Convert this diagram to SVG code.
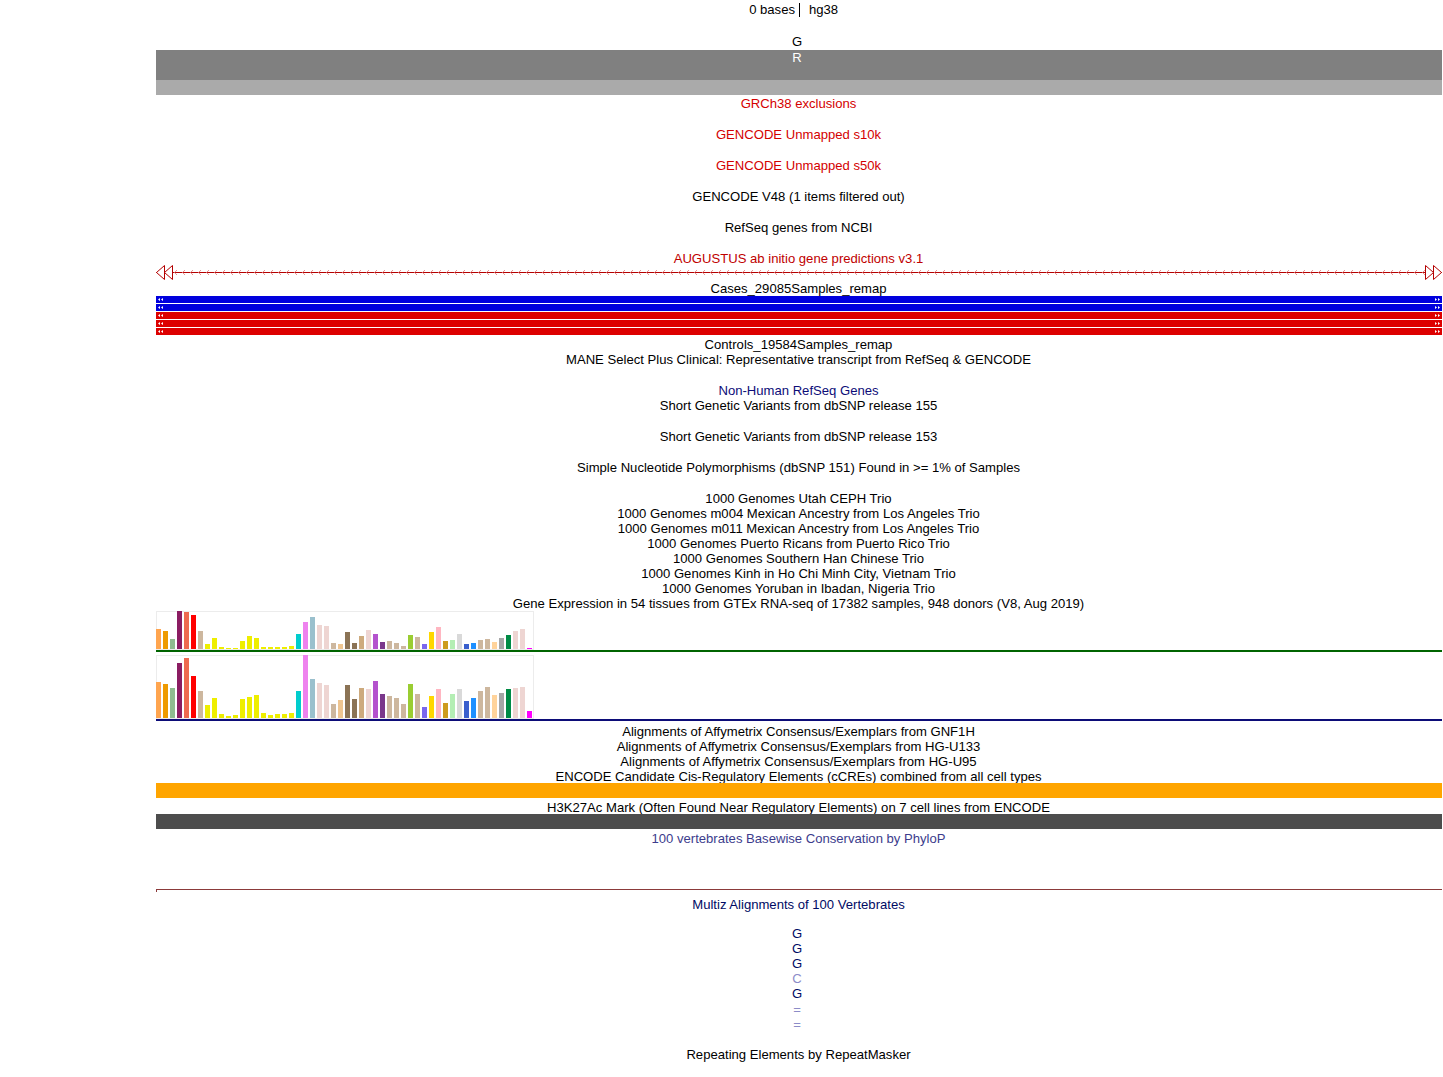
<svg xmlns="http://www.w3.org/2000/svg" width="1443" height="1077" viewBox="0 0 1443 1077">
<style>
text{font-family:"Liberation Sans",Arial,sans-serif;font-size:13.1px;fill:#000;text-anchor:middle}
.red{fill:#d40000}
.aug{fill:#c00000}
.nav{fill:#0c0c78}
.phy{fill:#3c3c8c}
.mz{fill:#000a64}
.mzl{fill:#8c8cc8}
.wh{fill:#fff}
.box{fill:none;stroke:#ececec;stroke-width:1}
</style>
<defs>
<pattern id="chev" patternUnits="userSpaceOnUse" x="174" y="268" width="8" height="10">
<path d="M3,2 L0.6,4.5 L3,7" fill="none" stroke="#e89090" stroke-width="1"/>
</pattern>
</defs>
<rect width="1443" height="1077" fill="#fff"/>

<g id="scale">
<text x="795" y="14" style="text-anchor:end">0 bases</text>
<line x1="799.5" y1="3" x2="799.5" y2="17" stroke="#000" stroke-width="1"/>
<text x="809" y="14" style="text-anchor:start">hg38</text>
</g>

<g id="reference">
<text x="797" y="46">G</text>
<rect x="156" y="50" width="1286" height="30" fill="#808080"/>
<text x="797" y="62" class="wh">R</text>
<rect x="156" y="80" width="1286" height="15" fill="#aaaaaa"/>
</g>

<g id="labels-upper">
<text x="798.5" y="108" class="red">GRCh38 exclusions</text>
<text x="798.5" y="139" class="red">GENCODE Unmapped s10k</text>
<text x="798.5" y="170" class="red">GENCODE Unmapped s50k</text>
<text x="798.5" y="201">GENCODE V48 (1 items filtered out)</text>
<text x="798.5" y="232">RefSeq genes from NCBI</text>
<text x="798.5" y="263" class="aug">AUGUSTUS ab initio gene predictions v3.1</text>
</g>

<g id="augustus">
<line x1="156" y1="272.5" x2="1442" y2="272.5" stroke="#b40000" stroke-width="1"/>
<rect x="174" y="268" width="1252" height="10" fill="url(#chev)"/>
<polygon points="156.5,272.5 164.5,265.5 164.5,279.5" fill="#fff" stroke="#b40000" stroke-width="1"/>
<polygon points="164.5,272.5 172.5,265.5 172.5,279.5" fill="#fff" stroke="#b40000" stroke-width="1"/>
<polygon points="1441.5,272.5 1433.5,265.5 1433.5,279.5" fill="#fff" stroke="#b40000" stroke-width="1"/>
<polygon points="1433.5,272.5 1425.5,265.5 1425.5,279.5" fill="#fff" stroke="#b40000" stroke-width="1"/>
</g>

<g id="cases">
<text x="798.5" y="292.5">Cases_29085Samples_remap</text>
<rect x="156" y="296" width="1286" height="7" fill="#0000dd"/>
<rect x="156" y="304" width="1286" height="7" fill="#0000dd"/>
<rect x="156" y="312" width="1286" height="7" fill="#dd0000"/>
<rect x="156" y="320" width="1286" height="7" fill="#dd0000"/>
<rect x="156" y="328" width="1286" height="7" fill="#dd0000"/>
<g fill="#fff">
<path d="M158,299.5 L160,298 L160,301 Z M161,299.5 L163,298 L163,301 Z"/>
<path d="M158,307.5 L160,306 L160,309 Z M161,307.5 L163,306 L163,309 Z"/>
<path d="M158,315.5 L160,314 L160,317 Z M161,315.5 L163,314 L163,317 Z"/>
<path d="M158,323.5 L160,322 L160,325 Z M161,323.5 L163,322 L163,325 Z"/>
<path d="M158,331.5 L160,330 L160,333 Z M161,331.5 L163,330 L163,333 Z"/>
<path d="M1440,299.5 L1438,298 L1438,301 Z M1437,299.5 L1435,298 L1435,301 Z"/>
<path d="M1440,307.5 L1438,306 L1438,309 Z M1437,307.5 L1435,306 L1435,309 Z"/>
<path d="M1440,315.5 L1438,314 L1438,317 Z M1437,315.5 L1435,314 L1435,317 Z"/>
<path d="M1440,323.5 L1438,322 L1438,325 Z M1437,323.5 L1435,322 L1435,325 Z"/>
<path d="M1440,331.5 L1438,330 L1438,333 Z M1437,331.5 L1435,330 L1435,333 Z"/>
</g>
</g>

<g id="labels-middle">
<text x="798.5" y="349">Controls_19584Samples_remap</text>
<text x="798.5" y="364">MANE Select Plus Clinical: Representative transcript from RefSeq &amp; GENCODE</text>
<text x="798.5" y="395" class="nav">Non-Human RefSeq Genes</text>
<text x="798.5" y="410">Short Genetic Variants from dbSNP release 155</text>
<text x="798.5" y="441">Short Genetic Variants from dbSNP release 153</text>
<text x="798.5" y="472">Simple Nucleotide Polymorphisms (dbSNP 151) Found in &gt;= 1% of Samples</text>
<text x="798.5" y="503">1000 Genomes Utah CEPH Trio</text>
<text x="798.5" y="518">1000 Genomes m004 Mexican Ancestry from Los Angeles Trio</text>
<text x="798.5" y="533">1000 Genomes m011 Mexican Ancestry from Los Angeles Trio</text>
<text x="798.5" y="548">1000 Genomes Puerto Ricans from Puerto Rico Trio</text>
<text x="798.5" y="563">1000 Genomes Southern Han Chinese Trio</text>
<text x="798.5" y="578">1000 Genomes Kinh in Ho Chi Minh City, Vietnam Trio</text>
<text x="798.5" y="593">1000 Genomes Yoruban in Ibadan, Nigeria Trio</text>
<text x="798.5" y="608">Gene Expression in 54 tissues from GTEx RNA-seq of 17382 samples, 948 donors (V8, Aug 2019)</text>
</g>

<g id="gtex-top">
<rect class="box" x="156.5" y="611.5" width="377" height="38"/>
<rect x="156" y="629" width="5" height="20" fill="#FFA54F"/>
<rect x="163" y="631" width="5" height="18" fill="#EE9A00"/>
<rect x="170" y="639" width="5" height="10" fill="#8FBC8F"/>
<rect x="177" y="611" width="5" height="38" fill="#8B1C62"/>
<rect x="184" y="612" width="5" height="37" fill="#EE6A50"/>
<rect x="191" y="615" width="5" height="34" fill="#FF0000"/>
<rect x="198" y="631" width="5" height="18" fill="#CDB79E"/>
<rect x="205" y="644" width="5" height="5" fill="#EEEE00"/>
<rect x="212" y="638" width="5" height="11" fill="#EEEE00"/>
<rect x="219" y="647" width="5" height="2" fill="#EEEE00"/>
<rect x="226" y="648" width="5" height="1" fill="#EEEE00"/>
<rect x="233" y="648" width="5" height="1" fill="#EEEE00"/>
<rect x="240" y="641" width="5" height="8" fill="#EEEE00"/>
<rect x="247" y="636" width="5" height="13" fill="#EEEE00"/>
<rect x="254" y="638" width="5" height="11" fill="#EEEE00"/>
<rect x="261" y="647" width="5" height="2" fill="#EEEE00"/>
<rect x="268" y="647" width="5" height="2" fill="#EEEE00"/>
<rect x="275" y="647" width="5" height="2" fill="#EEEE00"/>
<rect x="282" y="647" width="5" height="2" fill="#EEEE00"/>
<rect x="289" y="646" width="5" height="3" fill="#EEEE00"/>
<rect x="296" y="634" width="5" height="15" fill="#00CDCD"/>
<rect x="303" y="622" width="5" height="27" fill="#EE82EE"/>
<rect x="310" y="617" width="5" height="32" fill="#9AC0CD"/>
<rect x="317" y="625" width="5" height="24" fill="#EED5D2"/>
<rect x="324" y="626" width="5" height="23" fill="#EED5D2"/>
<rect x="331" y="643" width="5" height="6" fill="#CDB79E"/>
<rect x="338" y="644" width="5" height="5" fill="#EEC591"/>
<rect x="345" y="632" width="5" height="17" fill="#8B7355"/>
<rect x="352" y="643" width="5" height="6" fill="#8B7355"/>
<rect x="359" y="636" width="5" height="13" fill="#CDAA7D"/>
<rect x="366" y="630" width="5" height="19" fill="#EED5D2"/>
<rect x="373" y="634" width="5" height="15" fill="#B452CD"/>
<rect x="380" y="642" width="5" height="7" fill="#7A378B"/>
<rect x="387" y="641" width="5" height="8" fill="#CDB79E"/>
<rect x="394" y="643" width="5" height="6" fill="#CDB79E"/>
<rect x="401" y="646" width="5" height="3" fill="#CDB79E"/>
<rect x="408" y="635" width="5" height="14" fill="#9ACD32"/>
<rect x="415" y="637" width="5" height="12" fill="#CDB79E"/>
<rect x="422" y="644" width="5" height="5" fill="#7A67EE"/>
<rect x="429" y="632" width="5" height="17" fill="#FFD700"/>
<rect x="436" y="627" width="5" height="22" fill="#FFB6C1"/>
<rect x="443" y="641" width="5" height="8" fill="#CD9B1D"/>
<rect x="450" y="640" width="5" height="9" fill="#B4EEB4"/>
<rect x="457" y="634" width="5" height="15" fill="#D9D9D9"/>
<rect x="464" y="644" width="5" height="5" fill="#3A5FCD"/>
<rect x="471" y="643" width="5" height="6" fill="#1E90FF"/>
<rect x="478" y="640" width="5" height="9" fill="#CDB79E"/>
<rect x="485" y="639" width="5" height="10" fill="#CDB79E"/>
<rect x="492" y="642" width="5" height="7" fill="#FFD39B"/>
<rect x="499" y="638" width="5" height="11" fill="#A6A6A6"/>
<rect x="506" y="635" width="5" height="14" fill="#008B45"/>
<rect x="513" y="631" width="5" height="18" fill="#EED5D2"/>
<rect x="520" y="629" width="5" height="20" fill="#EED5D2"/>
<rect x="527" y="648" width="5" height="1" fill="#FF00FF"/>
<rect x="156" y="650" width="1286" height="2" fill="#006400"/>
</g>

<g id="gtex-bottom">
<rect class="box" x="156.5" y="655.5" width="377" height="63"/>
<rect x="156" y="682" width="5" height="36" fill="#FFA54F"/>
<rect x="163" y="684" width="5" height="34" fill="#EE9A00"/>
<rect x="170" y="688" width="5" height="30" fill="#8FBC8F"/>
<rect x="177" y="663" width="5" height="55" fill="#8B1C62"/>
<rect x="184" y="658" width="5" height="60" fill="#EE6A50"/>
<rect x="191" y="676" width="5" height="42" fill="#FF0000"/>
<rect x="198" y="691" width="5" height="27" fill="#CDB79E"/>
<rect x="205" y="705" width="5" height="13" fill="#EEEE00"/>
<rect x="212" y="698" width="5" height="20" fill="#EEEE00"/>
<rect x="219" y="714" width="5" height="4" fill="#EEEE00"/>
<rect x="226" y="716" width="5" height="2" fill="#EEEE00"/>
<rect x="233" y="715" width="5" height="3" fill="#EEEE00"/>
<rect x="240" y="699" width="5" height="19" fill="#EEEE00"/>
<rect x="247" y="697" width="5" height="21" fill="#EEEE00"/>
<rect x="254" y="695" width="5" height="23" fill="#EEEE00"/>
<rect x="261" y="713" width="5" height="5" fill="#EEEE00"/>
<rect x="268" y="715" width="5" height="3" fill="#EEEE00"/>
<rect x="275" y="714" width="5" height="4" fill="#EEEE00"/>
<rect x="282" y="714" width="5" height="4" fill="#EEEE00"/>
<rect x="289" y="713" width="5" height="5" fill="#EEEE00"/>
<rect x="296" y="691" width="5" height="27" fill="#00CDCD"/>
<rect x="303" y="655" width="5" height="63" fill="#EE82EE"/>
<rect x="310" y="679" width="5" height="39" fill="#9AC0CD"/>
<rect x="317" y="683" width="5" height="35" fill="#EED5D2"/>
<rect x="324" y="685" width="5" height="33" fill="#EED5D2"/>
<rect x="331" y="704" width="5" height="14" fill="#CDB79E"/>
<rect x="338" y="700" width="5" height="18" fill="#EEC591"/>
<rect x="345" y="685" width="5" height="33" fill="#8B7355"/>
<rect x="352" y="699" width="5" height="19" fill="#8B7355"/>
<rect x="359" y="688" width="5" height="30" fill="#CDAA7D"/>
<rect x="366" y="689" width="5" height="29" fill="#EED5D2"/>
<rect x="373" y="681" width="5" height="37" fill="#B452CD"/>
<rect x="380" y="694" width="5" height="24" fill="#7A378B"/>
<rect x="387" y="696" width="5" height="22" fill="#CDB79E"/>
<rect x="394" y="698" width="5" height="20" fill="#CDB79E"/>
<rect x="401" y="704" width="5" height="14" fill="#CDB79E"/>
<rect x="408" y="684" width="5" height="34" fill="#9ACD32"/>
<rect x="415" y="694" width="5" height="24" fill="#CDB79E"/>
<rect x="422" y="707" width="5" height="11" fill="#7A67EE"/>
<rect x="429" y="696" width="5" height="22" fill="#FFD700"/>
<rect x="436" y="689" width="5" height="29" fill="#FFB6C1"/>
<rect x="443" y="703" width="5" height="15" fill="#CD9B1D"/>
<rect x="450" y="694" width="5" height="24" fill="#B4EEB4"/>
<rect x="457" y="689" width="5" height="29" fill="#D9D9D9"/>
<rect x="464" y="701" width="5" height="17" fill="#3A5FCD"/>
<rect x="471" y="698" width="5" height="20" fill="#1E90FF"/>
<rect x="478" y="691" width="5" height="27" fill="#CDB79E"/>
<rect x="485" y="687" width="5" height="31" fill="#CDB79E"/>
<rect x="492" y="695" width="5" height="23" fill="#FFD39B"/>
<rect x="499" y="693" width="5" height="25" fill="#A6A6A6"/>
<rect x="506" y="689" width="5" height="29" fill="#008B45"/>
<rect x="513" y="688" width="5" height="30" fill="#EED5D2"/>
<rect x="520" y="687" width="5" height="31" fill="#EED5D2"/>
<rect x="527" y="711" width="5" height="7" fill="#FF00FF"/>
<rect x="156" y="719" width="1286" height="2" fill="#0c0c78"/>
</g>

<g id="labels-lower">
<text x="798.5" y="736">Alignments of Affymetrix Consensus/Exemplars from GNF1H</text>
<text x="798.5" y="751">Alignments of Affymetrix Consensus/Exemplars from HG-U133</text>
<text x="798.5" y="766">Alignments of Affymetrix Consensus/Exemplars from HG-U95</text>
<text x="798.5" y="781">ENCODE Candidate Cis-Regulatory Elements (cCREs) combined from all cell types</text>
</g>

<g id="encode">
<rect x="156" y="783" width="1286" height="15" fill="#ffa500"/>
<text x="798.5" y="812">H3K27Ac Mark (Often Found Near Regulatory Elements) on 7 cell lines from ENCODE</text>
<rect x="156" y="814" width="1286" height="15" fill="#4d4d4d"/>
</g>

<g id="phylop">
<text x="798.5" y="843" class="phy">100 vertebrates Basewise Conservation by PhyloP</text>
<line x1="156" y1="889.5" x2="1442" y2="889.5" stroke="#8b3a3a" stroke-width="1"/>
<line x1="156.5" y1="889" x2="156.5" y2="892" stroke="#8b3a3a" stroke-width="1"/>
</g>

<g id="multiz">
<text x="798.5" y="909" class="mz">Multiz Alignments of 100 Vertebrates</text>
<text x="797" y="938" class="mz">G</text>
<text x="797" y="953" class="mz">G</text>
<text x="797" y="968" class="mz">G</text>
<text x="797" y="983" class="mzl">C</text>
<text x="797" y="998" class="mz">G</text>
<text x="797" y="1014" class="mzl">=</text>
<text x="797" y="1029" class="mzl">=</text>
</g>

<g id="repeatmasker">
<text x="798.5" y="1059">Repeating Elements by RepeatMasker</text>
</g>
</svg>
